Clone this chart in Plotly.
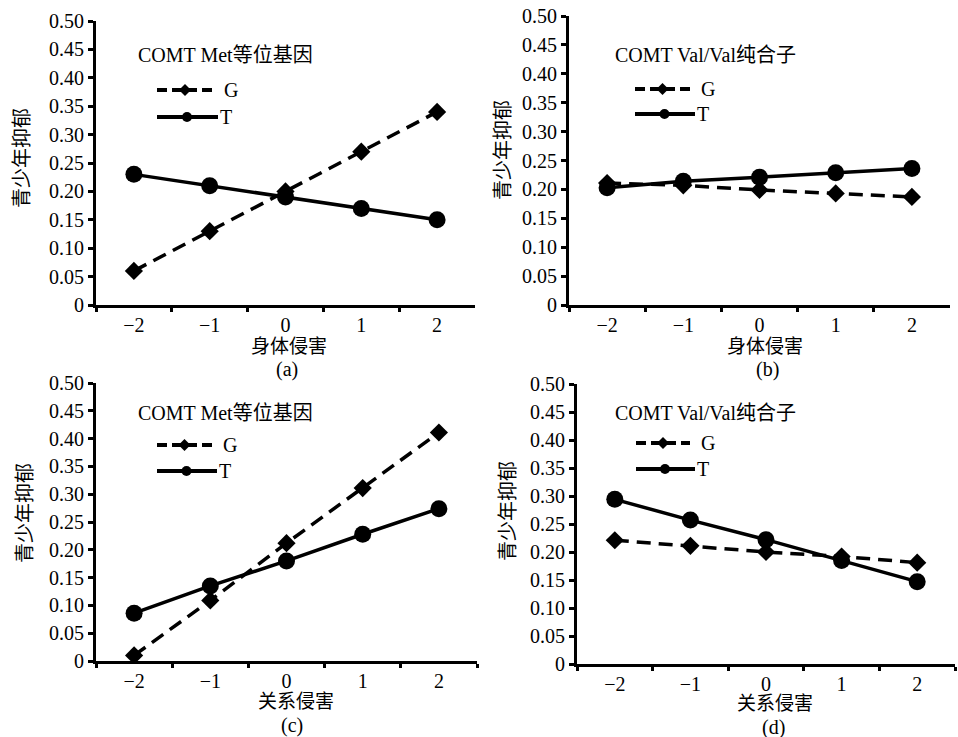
import plotly.graph_objects as go

W, H = 958, 737

categories = ["−2", "−1", "0", "1", "2"]

a_G = [0.06, 0.13, 0.20, 0.27, 0.34]
a_T = [0.23, 0.21, 0.19, 0.17, 0.15]
b_G = [0.211, 0.207, 0.199, 0.193, 0.187]
b_T = [0.203, 0.214, 0.221, 0.229, 0.236]
c_G = [0.010, 0.109, 0.212, 0.311, 0.411]
c_T = [0.086, 0.135, 0.180, 0.228, 0.274]
d_G = [0.221, 0.211, 0.200, 0.192, 0.181]
d_T = [0.294, 0.257, 0.222, 0.185, 0.147]

panel_titles = ["COMT Met等位基因", "COMT Val/Val纯合子", "COMT Met等位基因", "COMT Val/Val纯合子"]
x_titles = ["身体侵害", "身体侵害", "关系侵害", "关系侵害"]
captions = ["(a)", "(b)", "(c)", "(d)"]
y_title = "青少年抑郁"
series_names = ["G", "T"]
y_tickvals = [0, 0.05, 0.10, 0.15, 0.20, 0.25, 0.30, 0.35, 0.40, 0.45, 0.50]
y_ticktext = ["0", "0.05", "0.10", "0.15", "0.20", "0.25", "0.30", "0.35", "0.40", "0.45", "0.50"]

data = [(a_G, a_T), (b_G, b_T), (c_G, c_T), (d_G, d_T)]

FONT = "Liberation Serif, Noto Sans CJK SC, serif"
FS = 20
FS_T = 19

def fx(px):
    return px / W

def fy(py):
    return 1 - py / H

# panel boxes in pixels: (left, right, top, bottom)
boxes = [(96, 475, 21, 305), (569, 950, 16, 305), (96, 477, 383, 661), (577, 955, 384, 664)]
title_pos = [(136, 55), (613, 55), (136, 413), (613, 413)]
legend_pos = [(157, 213, 90, 117), (635, 690, 89, 114), (157, 212, 445, 471), (636, 690, 443, 469)]
xtitle_pos = [(289, 346), (765, 346), (296, 701), (775, 703)]
caption_pos = [(287, 369), (767, 369), (292, 725), (773, 727)]
ytitle_pos = [(22, 158), (503, 150), (25, 513), (508, 511)]

fig = go.Figure()
shapes = []
annotations = []

for i, (g, t) in enumerate(data):
    xa = "x" if i == 0 else f"x{i+1}"
    ya = "y" if i == 0 else f"y{i+1}"
    fig.add_trace(go.Scatter(x=categories, y=g, mode="lines+markers", name=series_names[0],
                             xaxis=xa, yaxis=ya, showlegend=False,
                             line=dict(color="black", width=3.5, dash="14px,8px"),
                             marker=dict(symbol="diamond", size=14, color="black")))
    fig.add_trace(go.Scatter(x=categories, y=t, mode="lines+markers", name=series_names[1],
                             xaxis=xa, yaxis=ya, showlegend=False,
                             line=dict(color="black", width=3.5),
                             marker=dict(symbol="circle", size=17, color="black")))
    l, r, top, bot = boxes[i]
    xk = "xaxis" if i == 0 else f"xaxis{i+1}"
    yk = "yaxis" if i == 0 else f"yaxis{i+1}"
    fig.layout[xk] = dict(domain=[fx(l), fx(r)], anchor=ya, type="category",
                          categoryorder="array", categoryarray=categories,
                          range=[-0.5, 4.5], tickson="boundaries", automargin=False,
                          showline=True, linewidth=3, linecolor="black",
                          ticks="outside", ticklen=4, tickwidth=3, tickcolor="black",
                          showgrid=False, zeroline=False,
                          tickfont=dict(family=FONT, size=FS, color="black"))
    fig.layout[yk] = dict(domain=[fy(bot), fy(top)], anchor=xa, range=[0, 0.5],
                          tickvals=y_tickvals, ticktext=y_ticktext, automargin=False,
                          showline=True, linewidth=3, linecolor="black",
                          ticks="outside", ticklen=5, tickwidth=3, tickcolor="black",
                          showgrid=False, zeroline=False,
                          tickfont=dict(family=FONT, size=FS, color="black"))
    tx, ty = title_pos[i]
    annotations.append(dict(x=fx(tx), y=fy(ty), xref="paper", yref="paper", text=panel_titles[i],
                            showarrow=False, xanchor="left", yanchor="middle",
                            font=dict(family=FONT, size=FS, color="black")))
    xx, xy = xtitle_pos[i]
    annotations.append(dict(x=fx(xx), y=fy(xy), xref="paper", yref="paper", text=x_titles[i],
                            showarrow=False, xanchor="center", yanchor="middle",
                            font=dict(family=FONT, size=FS_T, color="black")))
    cx, cy = caption_pos[i]
    annotations.append(dict(x=fx(cx), y=fy(cy), xref="paper", yref="paper", text=captions[i],
                            showarrow=False, xanchor="center", yanchor="middle",
                            font=dict(family=FONT, size=FS, color="black")))
    yx, yy = ytitle_pos[i]
    annotations.append(dict(x=fx(yx), y=fy(yy), xref="paper", yref="paper", text=y_title,
                            showarrow=False, xanchor="center", yanchor="middle", textangle=-90,
                            font=dict(family=FONT, size=FS, color="black")))
    # legend samples
    x0, x1, yG, yT = legend_pos[i]
    shapes.append(dict(type="line", xref="paper", yref="paper", x0=fx(x0), x1=fx(x1),
                       y0=fy(yG), y1=fy(yG), line=dict(color="black", width=4, dash="10px,5px")))
    mx = (x0 + x1) / 2
    d = 6
    shapes.append(dict(type="path", xref="paper", yref="paper",
                       path=f"M {fx(mx-d)} {fy(yG)} L {fx(mx)} {fy(yG-d)} L {fx(mx+d)} {fy(yG)} L {fx(mx)} {fy(yG+d)} Z",
                       fillcolor="black", line=dict(color="black", width=0)))
    shapes.append(dict(type="line", xref="paper", yref="paper", x0=fx(x0), x1=fx(x1 + 5),
                       y0=fy(yT), y1=fy(yT), line=dict(color="black", width=4)))
    cr = 5
    shapes.append(dict(type="circle", xref="paper", yref="paper",
                       x0=fx(mx + 2 - cr), x1=fx(mx + 2 + cr), y0=fy(yT + cr), y1=fy(yT - cr),
                       fillcolor="black", line=dict(color="black", width=0)))
    annotations.append(dict(x=fx(x1 + 9), y=fy(yG), xref="paper", yref="paper", text=series_names[0],
                            showarrow=False, xanchor="left", yanchor="middle",
                            font=dict(family=FONT, size=FS, color="black")))
    annotations.append(dict(x=fx(x1 + 5), y=fy(yT), xref="paper", yref="paper", text=series_names[1],
                            showarrow=False, xanchor="left", yanchor="middle",
                            font=dict(family=FONT, size=FS, color="black")))

fig.update_layout(width=W, height=H, margin=dict(l=0, r=0, t=0, b=0, autoexpand=False),
                  paper_bgcolor="white", plot_bgcolor="white",
                  shapes=shapes, annotations=annotations, showlegend=False)

fig.write_html("out.html", config={"displayModeBar": False},
               post_script="document.body.style.margin='0px';document.body.style.overflow='hidden';")
